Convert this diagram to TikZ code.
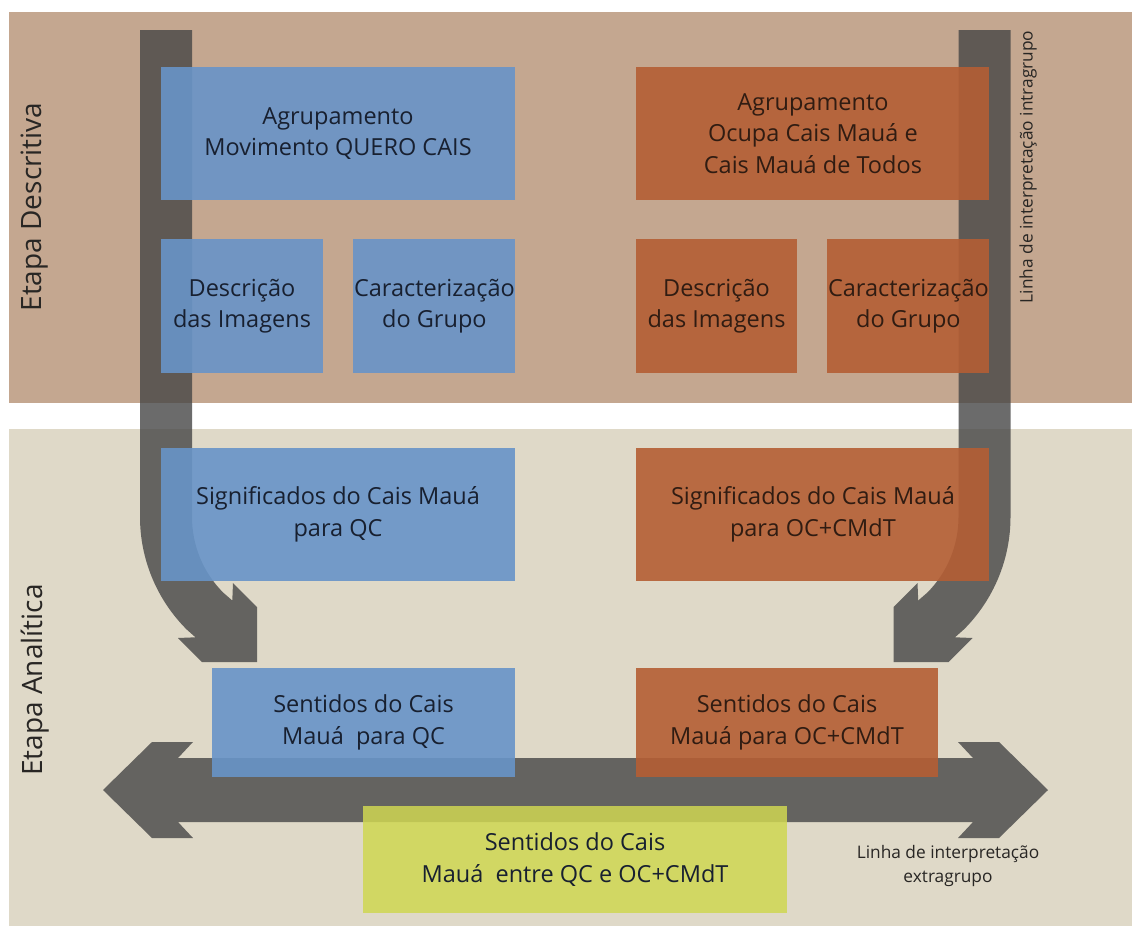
\documentclass[tikz,border=0pt]{standalone}
\usepackage{fontspec}
\setmainfont{Open Sans}
\usetikzlibrary{positioning}

\definecolor{tanband}{RGB}{196,167,144}
\definecolor{sandband}{RGB}{223,217,200}
\definecolor{bargray}{RGB}{70,70,70}
\definecolor{qcblue}{RGB}{104,148,200}
\definecolor{ocorange}{RGB}{180,94,52}
\definecolor{limebox}{RGB}{207,215,82}
\definecolor{qctext}{RGB}{24,32,48}
\definecolor{octext}{RGB}{48,28,18}
\definecolor{labeltext}{RGB}{40,38,36}

% bent arrow of the left column (mirrored for the right one)
\newcommand{\bentarrow}{%
  \fill[bar] (140,30) -- (140,517) .. controls (140,559.2) and (156.8,599.6) .. (186.6,629.4)
    -- (195.5,637.3) -- (178,638) -- (202,662) -- (257,662) -- (257,607) -- (233,583)
    -- (232.3,600.5) -- (223.3,592.7) .. controls (203.2,572.6) and (192,545.4) .. (192,517)
    -- (192,30) -- cycle;}

\begin{document}
\begin{tikzpicture}[x=1pt,y=-1pt,
	box/.style={rectangle,inner sep=0pt,align=center,
		font=\fontsize{23.5}{31.5}\selectfont,fill opacity=0.9,text opacity=1},
	qc box/.style={box,fill=qcblue,text=qctext},
	oc box/.style={box,fill=ocorange,text=octext},
	bar/.style={fill=bargray,fill opacity=0.8},
	stage/.style={rotate=90,text=labeltext,font=\fontsize{28}{32}\selectfont},
	line label/.style={text=labeltext,align=center,font=\fontsize{17.3}{24}\selectfont}]
	
	\useasboundingbox (0,0) rectangle (1132,926);
	
	% bands
	\fill[tanband] (9,12) rectangle (1132,403);
	\fill[white] (9,403) rectangle (1132,429);
	\fill[sandband] (9,429) rectangle (1132,926);
	
	% interpretation lines
	\bentarrow
	\begin{scope}[xshift=1150.5pt,xscale=-1]
		\bentarrow
	\end{scope}
	\fill[bar] (103,790) -- (152,742) -- (193,742) -- (178,758) -- (973,758) -- (958,742)
		-- (999,742) -- (1048,790) -- (999,838) -- (958,838) -- (973,822) -- (178,822)
		-- (193,838) -- (152,838) -- cycle;
	
	% QC column
	\node[qc box,minimum width=354pt,minimum height=133pt] (agrQC) at (338,133.5)
		{Agrupamento\\Movimento QUERO CAIS};
	\node[qc box,minimum width=162pt,minimum height=134pt] (descQC) at (242,306)
		{Descrição\\das Imagens};
	\node[qc box,minimum width=162pt,minimum height=134pt] (caracQC) [right=30pt of descQC]
		{Caracterização\\do Grupo};
	\node[qc box,minimum width=354pt,minimum height=133pt] (signQC) at (338,514.5)
		{Significados do Cais Mauá\\para QC};
	\node[qc box,minimum width=303pt,minimum height=109pt] (sentQC) at (363.5,722.5)
		{Sentidos do Cais\\Mauá\ \ para QC};
	
	% OC+CMdT column
	\node[oc box,minimum width=353pt,minimum height=133pt] (agrOC) [right=121pt of agrQC]
		{Agrupamento\\Ocupa Cais Mauá e\\Cais Mauá de Todos};
	\node[oc box,minimum width=161pt,minimum height=134pt] (descOC) at (716.5,306)
		{Descrição\\das Imagens};
	\node[oc box,minimum width=162pt,minimum height=134pt] (caracOC) [right=30pt of descOC]
		{Caracterização\\do Grupo};
	\node[oc box,minimum width=353pt,minimum height=133pt] (signOC) [right=121pt of signQC]
		{Significados do Cais Mauá\\para OC+CMdT};
	\node[oc box,minimum width=302pt,minimum height=109pt] (sentOC) at (787,722.5)
		{Sentidos do Cais\\Mauá para OC+CMdT};
	
	\node[box,fill=limebox,fill opacity=0.85,text=qctext,minimum width=424pt,minimum height=107pt]
		(sentAll) at (575,859.5) {Sentidos do Cais\\Mauá\ \ entre QC e OC+CMdT};
	
	% labels
	\node[stage] (etapaDesc) at (35,207) {Etapa Descritiva};
	\node[stage] (etapaAnal) at (35,680) {Etapa Analítica};
	\node[line label,rotate=90] (intraLbl) at (1028,167) {Linha de interpretação intragrupo};
	\node[line label] (extraLbl) at (948,866) {Linha de interpretação\\extragrupo};
\end{tikzpicture}
\end{document}
